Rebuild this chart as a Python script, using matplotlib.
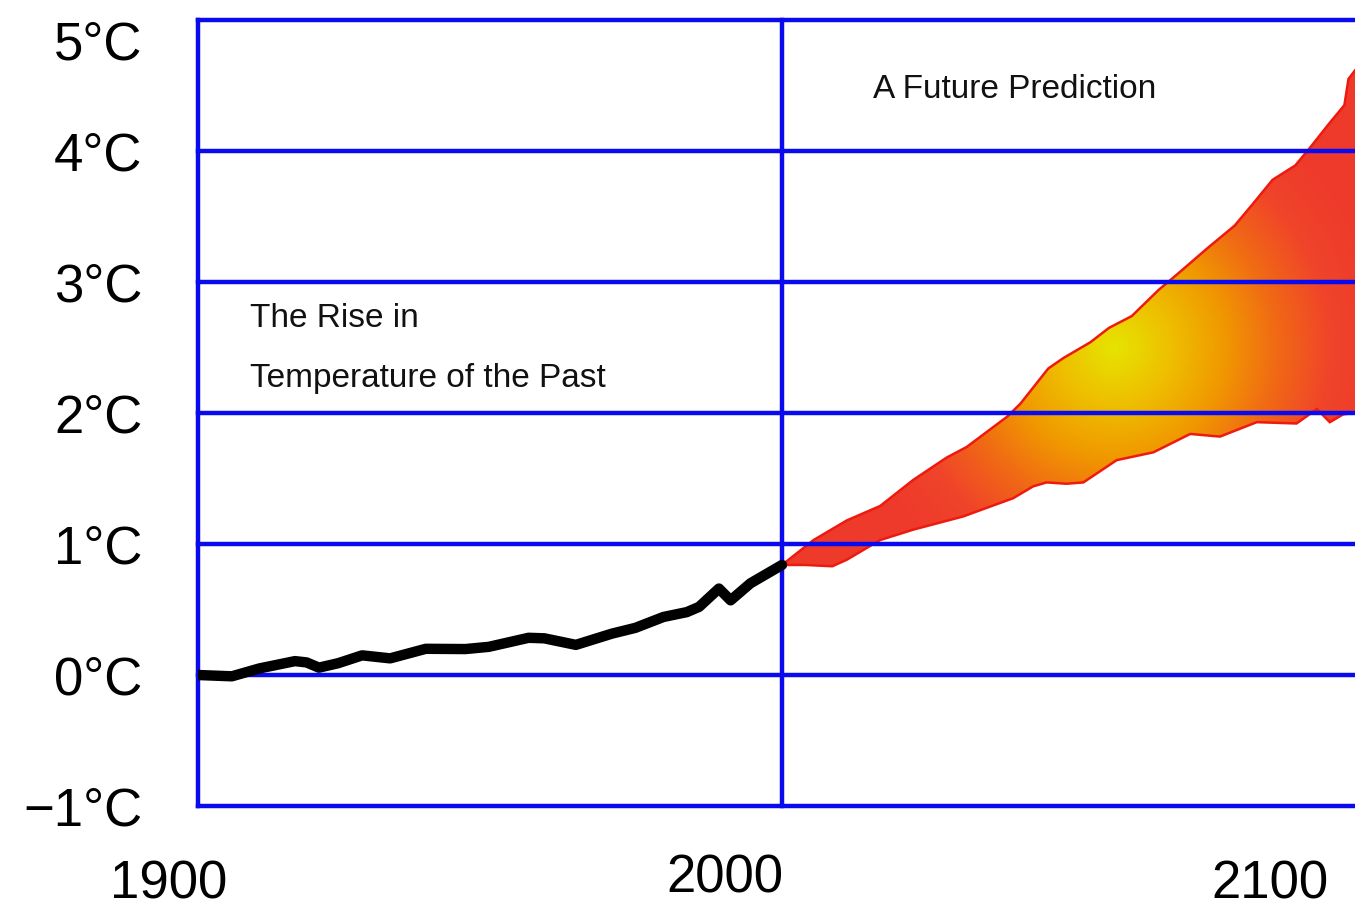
import numpy as np
import matplotlib.pyplot as plt
from matplotlib.colors import LinearSegmentedColormap

plt.rcParams['font.family'] = ['Liberation Sans', 'DejaVu Sans']

# observed rise (deg C above 1900)
past_year = [1900, 1905.8, 1910.5, 1916.6, 1918.6, 1920.7, 1924, 1928.1, 1932.9, 1939,
             1945.8, 1949.8, 1956.6, 1959.3, 1964.7, 1970.9, 1974.9, 1979.7, 1983.7,
             1985.8, 1989.2, 1991.2, 1994.6, 2000]
past_temp = [0.0, -0.01, 0.05, 0.106, 0.096, 0.056, 0.09, 0.15, 0.127, 0.20,
             0.198, 0.215, 0.284, 0.28, 0.23, 0.316, 0.36, 0.443, 0.48,
             0.52, 0.66, 0.57, 0.70, 0.84]

# prediction band - upper edge
hi_year = [2000, 2005.4, 2011.1, 2016.8, 2022.5, 2028.2, 2031.6, 2038.5, 2040.8, 2045.6,
           2048.2, 2052.8, 2056, 2059.9, 2064.5, 2067.7, 2072.9, 2077.5, 2080.7, 2084,
           2087.9, 2090.5, 2093.7, 2096.3, 2097, 2098.2, 2100]
hi_temp = [0.84, 1.03, 1.18, 1.29, 1.49, 1.66, 1.74, 1.97, 2.07, 2.34,
           2.42, 2.54, 2.65, 2.74, 2.94, 3.06, 3.26, 3.43, 3.60, 3.78,
           3.89, 4.03, 4.21, 4.35, 4.55, 4.62, 4.68]
# prediction band - lower edge
lo_year = [2000, 2004, 2008.6, 2011.1, 2016.8, 2022.5, 2031, 2039.6, 2043, 2045.3,
           2048.7, 2051.6, 2057.3, 2063.6, 2069.9, 2075, 2081.3, 2088.1, 2091.6,
           2093.8, 2096.1, 2098.1, 2100]
lo_temp = [0.84, 0.84, 0.83, 0.88, 1.03, 1.11, 1.21, 1.35, 1.44, 1.47,
           1.46, 1.47, 1.64, 1.70, 1.84, 1.82, 1.93, 1.92, 2.03,
           1.93, 1.99, 2.00, 2.02]

temp_ticks = [-1, 0, 1, 2, 3, 4, 5]
temp_labels = ['\u22121\u00b0C', '0\u00b0C', '1\u00b0C', '2\u00b0C', '3\u00b0C', '4\u00b0C', '5\u00b0C']
year_labels = ['1900', '2000', '2100']
year_label_x = [1894.9, 1990.2, 2083.6]
year_label_y = [-0.10, -0.092, -0.10]

blue = '#0a0aee'
W, H = 1355, 909

fig = plt.figure(figsize=(W / 100, H / 100), dpi=100)
ax_l, ax_b, ax_w, ax_h = 198 / W, 1 - 806 / H, 1168 / W, 786 / H
ax = fig.add_axes([ax_l, ax_b, ax_w, ax_h])
for s in ax.spines.values():
    s.set_visible(False)

# band outline + radial yellow->red glow clipped to it
band = ax.fill(hi_year + lo_year[::-1], hi_temp + lo_temp[::-1],
               facecolor='none', edgecolor='#ee1a10', lw=1.8, zorder=3)[0]
px_yr = W * ax_w / 200.0
px_deg = H * ax_h / 6.0
gx, gy = np.meshgrid(np.linspace(2000, 2100, 500), np.linspace(0, 5, 400))
r = np.hypot((gx - 2057) * px_yr, (gy - 2.5) * px_deg) / 270.0
glow = LinearSegmentedColormap.from_list(
    'glow', ['#e6e400', '#eec000', '#f09a00', '#f06a14', '#f0442a', '#ee3a2a'])
im = ax.imshow(r, extent=(2000, 2100, 0, 5), origin='lower', aspect='auto',
               cmap=glow, vmin=0, vmax=1, zorder=2)
im.set_clip_path(band)

# grid
for t in temp_ticks:
    ax.axhline(t, color=blue, lw=3.2, zorder=4, clip_on=False)
ax.axvline(1900, color=blue, lw=3.2, zorder=4, clip_on=False)
ax.axvline(2000, color=blue, lw=3.2, zorder=4, clip_on=False)

ax.plot(past_year, past_temp, color='k', lw=7.5, zorder=5,
        solid_capstyle='round', solid_joinstyle='round')

ax.set_xlim(1900, 2100)
ax.set_ylim(-1, 5)

ax.set_yticks(temp_ticks, temp_labels, fontsize=38)
ax.tick_params(axis='y', length=0, pad=40)
ax.get_yticklabels()[-1].set_va('top')
ax.set_xticks([])

for lx, ly, lab in zip(year_label_x, year_label_y, year_labels):
    ax.text(lx, ly, lab, transform=ax.get_xaxis_transform(), fontsize=38,
            ha='center', va='center', clip_on=False)

ax.text(1908.9, 2.72, 'The Rise in', fontsize=24, va='center', color='#111111')
ax.text(1908.9, 2.26, 'Temperature of the Past', fontsize=24, va='center', color='#111111')
ax.text(2015.6, 4.47, 'A Future Prediction', fontsize=24, va='center', color='#111111')

fig.savefig('out.png', dpi=100)
